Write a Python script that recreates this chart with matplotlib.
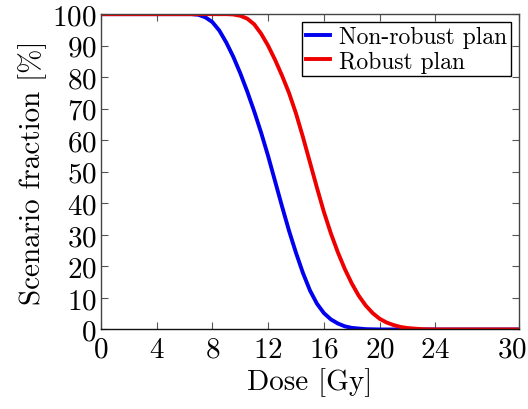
import numpy as np
import matplotlib
matplotlib.use('Agg')
from matplotlib import pyplot as plt
from matplotlib.transforms import ScaledTranslation

# 读取自图片的数据点
dose_blue = [0, 6.5, 7.0, 7.5, 8.0, 8.5, 9.0, 9.5, 10.0, 10.5, 11.0, 11.5, 12.0, 12.5, 13.0,
             13.5, 14.0, 14.5, 15.0, 15.5, 16.0, 16.5, 17.0, 17.5, 18.0, 19.0, 20, 30]
frac_blue = [100, 100, 99.8, 99.0, 97.5, 94.8, 91.0, 86.5, 81.3, 75.5, 69.2, 62.4, 55.0, 47.0, 39.0,
             31.3, 24.3, 17.9, 12.4, 8.2, 5.2, 3.2, 1.9, 1.0, 0.5, 0.1, 0, 0]

dose_red = [0, 9.0, 9.5, 10.0, 10.5, 11.0, 11.5, 12.0, 12.5, 13.0, 13.5, 14.0, 14.5, 15.0, 15.5,
            16.0, 16.5, 17.0, 17.5, 18.0, 18.5, 19.0, 19.5, 20.0, 20.5, 21.0, 21.5, 22.0, 23.0, 24, 30]
frac_red = [100, 100, 99.9, 99.5, 98.6, 96.8, 93.8, 90.0, 85.5, 80.5, 75.0, 68.5, 61.0, 53.0, 45.0,
            37.3, 30.5, 24.5, 19.2, 14.6, 10.7, 7.6, 5.2, 3.4, 2.2, 1.4, 0.8, 0.45, 0.1, 0, 0]

xticks = [0, 4, 8, 12, 16, 20, 24, 30]
yticks = list(range(0, 101, 10))

plt.rcParams['font.family'] = ['cmr10', 'DejaVu Serif']
plt.rcParams['mathtext.fontset'] = 'cm'
plt.rcParams['axes.formatter.use_mathtext'] = True

fig = plt.figure(figsize=(5.28, 4.10), dpi=100)
ax = fig.add_axes([0.191, 0.194, 0.792, 0.769])

ax.plot(dose_blue, frac_blue, color='#0000ee', lw=2.8, label='Non-robust plan',
        solid_joinstyle='round')
ax.plot(dose_red, frac_red, color='#ee0000', lw=2.8, label='Robust plan',
        solid_joinstyle='round')

ax.set_xlim(0, 30)
ax.set_ylim(0, 100)
ax.set_xticks(xticks)
ax.set_yticks(yticks)
ax.tick_params(direction='in', top=True, right=True, length=5, width=0.8,
               color='#555555', labelsize=21)
ax.tick_params(axis='x', pad=5)
ax.tick_params(axis='y', pad=3)
for s in ax.spines.values():
    s.set_color('#444444')
    s.set_linewidth(1.0)
ax.spines['bottom'].set_color('#111111')

# 最后一个刻度标签往左挪一点，不出界
lab = ax.get_xticklabels()[-1]
lab.set_transform(lab.get_transform() + ScaledTranslation(-7 / 100, 0, fig.dpi_scale_trans))

ax.set_xlabel('Dose [Gy]', fontsize=21, labelpad=3)
ax.set_ylabel('Scenario fraction [%]', fontsize=21, labelpad=4)

leg = ax.legend(loc='upper right', fontsize=17, handlelength=1.0, handletextpad=0.4,
                borderpad=0.15, labelspacing=0.1, borderaxespad=0.35,
                fancybox=False, framealpha=1, edgecolor='black')
leg.get_frame().set_linewidth(1.0)

plt.savefig('out.png', dpi=100)
